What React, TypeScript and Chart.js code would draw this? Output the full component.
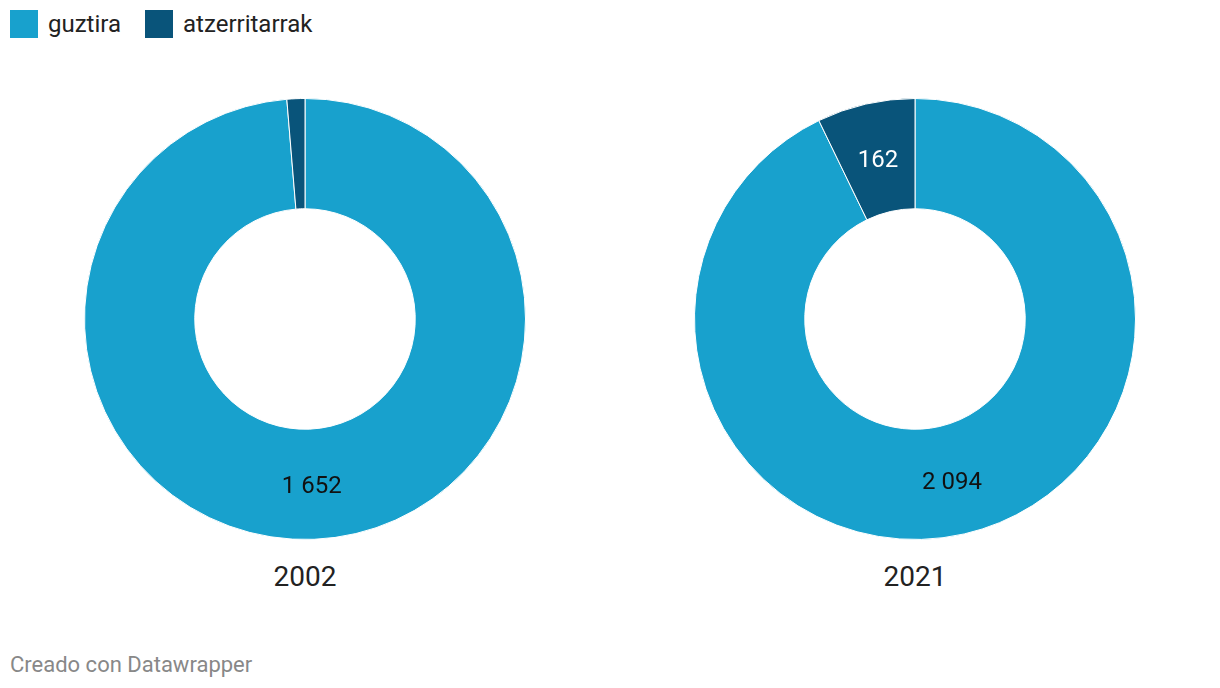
import React, { useEffect, useRef } from "react";
import { Chart, registerables } from "chart.js";

Chart.register(...registerables);

const seriesNames = ["guztira", "atzerritarrak"];
const seriesColors = ["#18a1cd", "#09547a"];
const years = ["2002", "2021"];
const values2002 = [1652, 22];
const values2021 = [2094, 162];
const labelColors = ["#111111", "#ffffff"];
const minLabelShare = 0.03;

const FONT = "Roboto, 'Noto Sans', sans-serif";

function fmt(v: number): string {
  return String(v).replace(/\B(?=(\d{3})+(?!\d))/g, " ");
}

const valueLabelPlugin = {
  id: "valueLabels",
  afterDatasetsDraw(chart: any) {
    const ctx = chart.ctx;
    const meta = chart.getDatasetMeta(0);
    const data = chart.data.datasets[0].data as number[];
    const total = data.reduce((a, b) => a + b, 0);
    ctx.save();
    ctx.font = `24px ${FONT}`;
    ctx.textAlign = "center";
    ctx.textBaseline = "middle";
    meta.data.forEach((arc: any, i: number) => {
      if (data[i] / total < minLabelShare) return;
      const p = arc.tooltipPosition();
      ctx.fillStyle = labelColors[i];
      ctx.fillText(fmt(data[i]), p.x, p.y + 3);
    });
    ctx.restore();
  },
};

function Donut({ values, left }: { values: number[]; left: number }) {
  const ref = useRef<HTMLCanvasElement | null>(null);
  useEffect(() => {
    if (!ref.current) return;
    const chart = new Chart(ref.current, {
      type: "doughnut",
      data: {
        labels: seriesNames,
        datasets: [
          {
            data: values,
            backgroundColor: seriesColors,
            borderColor: "#ffffff",
            borderWidth: 1,
            hoverOffset: 0,
          },
        ],
      },
      options: {
        animation: false,
        responsive: false,
        maintainAspectRatio: false,
        cutout: "50%",
        layout: { padding: 0 },
        plugins: { legend: { display: false }, tooltip: { enabled: false } },
      },
      plugins: [valueLabelPlugin],
    } as any);
    return () => chart.destroy();
  }, []);
  return (
    <canvas
      ref={ref}
      width={442}
      height={442}
      style={{ position: "absolute", left, top: 98, width: 442, height: 442 }}
    />
  );
}

export default function App() {
  useEffect(() => {
    document.body.style.margin = "0";
  }, []);
  const centers = [305, 915];
  return (
    <div
      style={{
        position: "relative",
        width: 1220,
        height: 688,
        background: "#ffffff",
        fontFamily: FONT,
        overflow: "hidden",
      }}
    >
      <div style={{ position: "absolute", left: 10, top: 10, display: "flex", alignItems: "center" }}>
        {seriesNames.map((n, i) => (
          <div key={n} style={{ display: "flex", alignItems: "center", marginRight: 24 }}>
            <div style={{ width: 28, height: 28, background: seriesColors[i], marginRight: 10 }} />
            <span style={{ fontSize: 24, color: "#222", lineHeight: "28px" }}>{n}</span>
          </div>
        ))}
      </div>
      <Donut values={values2002} left={centers[0] - 221} />
      <Donut values={values2021} left={centers[1] - 221} />
      {years.map((y, i) => (
        <div
          key={y}
          style={{
            position: "absolute",
            left: centers[i] - 100,
            width: 200,
            top: 560,
            textAlign: "center",
            fontSize: 28,
            color: "#222",
            lineHeight: "34px",
          }}
        >
          {y}
        </div>
      ))}
      <div
        style={{
          position: "absolute",
          left: 10,
          top: 651,
          fontSize: 22,
          color: "#888",
          lineHeight: "28px",
        }}
      >
        Creado con Datawrapper
      </div>
    </div>
  );
}
